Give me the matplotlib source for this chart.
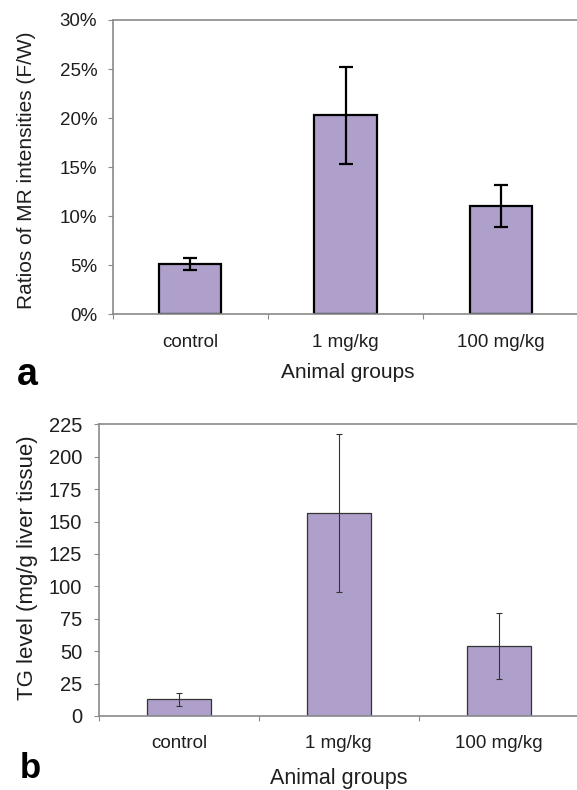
import matplotlib
matplotlib.use("Agg")
import matplotlib.pyplot as plt
from matplotlib.ticker import PercentFormatter
import numpy as np

plt.rcParams['font.family'] = ['Liberation Sans', 'DejaVu Sans']

groups = ["control", "1 mg/kg", "100 mg/kg"]

# panel a: ratios of MR intensities (percent)
mr_ratio = [5.15, 20.3, 11.0]
mr_err = [0.6, 4.95, 2.15]
mr_ticks = [0, 5, 10, 15, 20, 25, 30]

# panel b: TG level (mg/g liver tissue)
tg_level = [12.8, 156.6, 53.8]
tg_err = [4.9, 61.0, 25.3]
tg_ticks = [0, 25, 50, 75, 100, 125, 150, 175, 200, 225]

bar_color = "#afa0cb"
spine_color = "#8a8a8a"
text_color = "#1e1e1e"

fig = plt.figure(figsize=(5.77, 7.90), dpi=100)
ax_a = fig.add_axes([0.1953, 0.6022, 0.8070, 0.3725])
ax_b = fig.add_axes([0.1716, 0.0937, 0.8310, 0.3692])

x = np.arange(len(groups))


def style_axes(ax, ticks, fs, ypad):
	for side in ["top", "right", "left", "bottom"]:
		ax.spines[side].set_color(spine_color)
		ax.spines[side].set_linewidth(1.2)
	ax.set_xlim(-0.5, len(groups) - 0.5)
	ax.set_ylim(ticks[0], ticks[-1])
	ax.set_yticks(ticks)
	ax.set_xticks(np.arange(len(groups) + 1) - 0.5)
	ax.set_xticklabels([])
	ax.set_xticks(x, groups, minor=True)
	ax.tick_params(axis="x", which="major", length=3.6, color=spine_color, direction="out")
	ax.tick_params(axis="x", which="minor", length=0, pad=14, labelsize=13.5, labelcolor=text_color)
	ax.tick_params(axis="y", length=3.6, color=spine_color, pad=ypad, labelsize=fs, labelcolor=text_color)


# panel a
ax_a.bar(x, mr_ratio, width=0.4, color=bar_color, edgecolor="black", linewidth=1.6, zorder=2)
ax_a.errorbar(x, mr_ratio, yerr=mr_err, fmt="none", ecolor="black", elinewidth=1.6,
	capsize=5, capthick=1.6, zorder=3)
style_axes(ax_a, mr_ticks, 13.5, 7.5)
ax_a.yaxis.set_major_formatter(PercentFormatter(decimals=0))

# panel b
ax_b.bar(x, tg_level, width=0.4, color=bar_color, edgecolor="#333333", linewidth=0.9, zorder=2)
ax_b.errorbar(x, tg_level, yerr=tg_err, fmt="none", ecolor="#333333", elinewidth=0.8,
	capsize=2.5, capthick=0.8, zorder=3)
style_axes(ax_b, tg_ticks, 14.5, 8.5)

# labels
fig.text(27 / 577, 1 - 170 / 790, "Ratios of MR intensities (F/W)", rotation=90, ha="center", va="center",
	fontsize=15, color=text_color)
fig.text(27.5 / 577, 1 - 568 / 790, "TG level (mg/g liver tissue)", rotation=90, ha="center", va="center",
	fontsize=16, color=text_color)
fig.text(347.6 / 577, 1 - 378 / 790, "Animal groups", ha="center", va="baseline", fontsize=15, color=text_color)
fig.text(338.5 / 577, 1 - 784 / 790, "Animal groups", ha="center", va="baseline", fontsize=15.5, color=text_color)
fig.text(17 / 577, 1 - 385 / 790, "a", ha="left", va="baseline", fontsize=27, fontweight="bold")
fig.text(20 / 577, 1 - 778 / 790, "b", ha="left", va="baseline", fontsize=25, fontweight="bold")

plt.savefig("out.png", dpi=100)
